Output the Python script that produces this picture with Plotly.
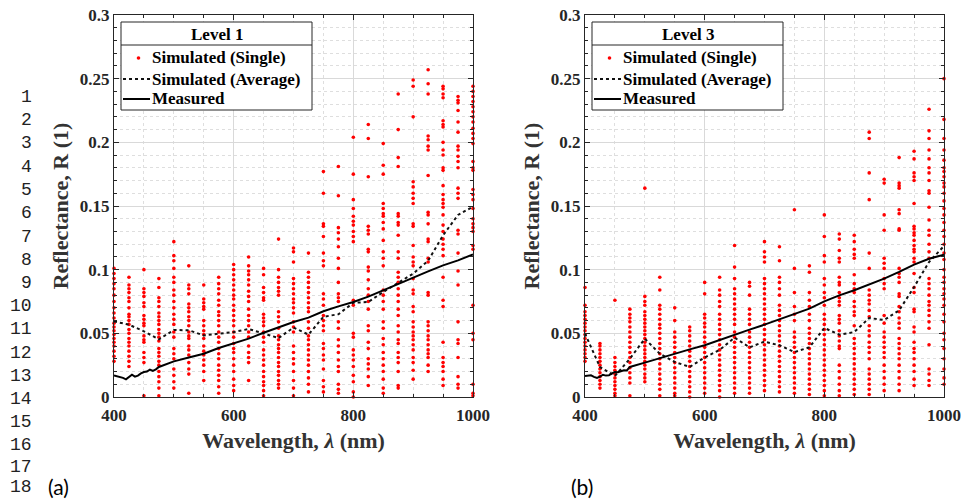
import plotly.graph_objects as go

# ---------------- data ----------------
WL_COLS = [400, 425, 450, 475, 500, 525, 550, 575, 600, 625, 650, 675, 700,
           725, 750, 775, 800, 825, 850, 875, 900, 925, 950, 975, 1000]

SINGLE_A = [
    [0.101,0.097,0.093,0.089,0.085,0.080,0.075,0.070,0.066,0.062,0.058,0.055,0.052,0.049,0.046,0.043,0.040,0.036,0.032,0.028],
    [0.094,0.088,0.085,0.082,0.078,0.075,0.070,0.065,0.063,0.060,0.057,0.053,0.050,0.046,0.043,0.040,0.036,0.032,0.028,0.024],
    [0.100,0.085,0.082,0.079,0.074,0.071,0.064,0.061,0.058,0.056,0.048,0.045,0.043,0.035,0.031,0.027,0.001],
    [0.093,0.086,0.078,0.075,0.071,0.066,0.063,0.060,0.057,0.053,0.050,0.047,0.044,0.038,0.035,0.032,0.028,0.025,0.020,0.016,0.012,0.007,0.001],
    [0.122,0.111,0.107,0.101,0.094,0.090,0.084,0.080,0.075,0.070,0.065,0.061,0.057,0.051,0.047,0.038,0.034,0.030,0.022,0.017,0.012,0.007],
    [0.103,0.088,0.085,0.081,0.073,0.070,0.067,0.063,0.060,0.056,0.051,0.048,0.046,0.040,0.037,0.033,0.027,0.022,0.018,0.003],
    [0.088,0.077,0.074,0.071,0.069,0.060,0.056,0.052,0.049,0.046,0.040,0.036,0.033,0.029,0.025,0.020,0.013],
    [0.094,0.089,0.085,0.081,0.076,0.072,0.067,0.064,0.060,0.056,0.051,0.047,0.043,0.038,0.034,0.030,0.025,0.021,0.017,0.013,0.008,0.003],
    [0.104,0.100,0.096,0.092,0.088,0.084,0.080,0.077,0.072,0.068,0.064,0.060,0.056,0.051,0.047,0.042,0.038,0.035,0.030,0.025,0.020,0.014,0.009,0.005],
    [0.110,0.103,0.099,0.096,0.092,0.088,0.083,0.079,0.075,0.069,0.064,0.060,0.056,0.051,0.047,0.040,0.035,0.031,0.027,0.013],
    [0.101,0.096,0.086,0.082,0.078,0.076,0.065,0.062,0.059,0.056,0.051,0.047,0.043,0.037,0.033,0.029,0.025,0.020,0.016,0.012,0.009,0.005,0.001],
    [0.124,0.100,0.094,0.090,0.086,0.083,0.080,0.067,0.063,0.059,0.054,0.048,0.045,0.041,0.038,0.035,0.031,0.027,0.024,0.020,0.017,0.013,0.010,0.007],
    [0.117,0.114,0.106,0.093,0.089,0.085,0.081,0.077,0.074,0.070,0.066,0.059,0.055,0.051,0.040,0.035,0.030,0.026,0.020,0.013,0.007,0.001],
    [0.113,0.098,0.094,0.090,0.086,0.082,0.078,0.074,0.070,0.067,0.059,0.054,0.048,0.045,0.041,0.037,0.033,0.029,0.025,0.020,0.015,0.010,0.004],
    [0.177,0.160,0.136,0.134,0.126,0.113,0.107,0.103,0.081,0.077,0.072,0.064,0.060,0.056,0.052,0.042,0.038,0.033,0.029,0.022,0.013,0.008,0.004],
    [0.181,0.158,0.133,0.129,0.124,0.118,0.109,0.101,0.090,0.081,0.078,0.075,0.059,0.054,0.045,0.040,0.035,0.029,0.024,0.020,0.010,0.006,0.003],
    [0.204,0.175,0.155,0.148,0.142,0.138,0.135,0.130,0.126,0.122,0.076,0.072,0.050,0.047,0.037,0.033,0.029,0.024,0.017,0.012,0.004,0.000],
    [0.214,0.203,0.173,0.134,0.131,0.128,0.116,0.114,0.102,0.099,0.092,0.085,0.080,0.075,0.069,0.056,0.052,0.043,0.038,0.030,0.026,0.022,0.016,0.009],
    [0.199,0.182,0.175,0.152,0.148,0.144,0.142,0.137,0.132,0.123,0.114,0.109,0.103,0.084,0.080,0.075,0.069,0.059,0.054,0.046,0.041,0.035,0.030,0.025,0.020,0.014,0.007,0.003],
    [0.238,0.210,0.188,0.181,0.144,0.142,0.137,0.135,0.127,0.114,0.109,0.098,0.094,0.090,0.085,0.080,0.075,0.069,0.064,0.056,0.051,0.045,0.042,0.035,0.031,0.027,0.020,0.009,0.007],
    [0.249,0.244,0.220,0.169,0.165,0.160,0.156,0.152,0.136,0.134,0.119,0.110,0.106,0.103,0.093,0.084,0.081,0.071,0.067,0.059,0.055,0.051,0.048,0.045,0.041,0.037,0.031,0.027,0.021,0.014],
    [0.257,0.246,0.238,0.205,0.202,0.197,0.194,0.174,0.145,0.143,0.136,0.124,0.122,0.109,0.106,0.082,0.080,0.059,0.056,0.052,0.048,0.045,0.041,0.037,0.034,0.031,0.025,0.020],
    [0.244,0.242,0.238,0.235,0.217,0.214,0.212,0.200,0.194,0.190,0.180,0.178,0.166,0.159,0.155,0.152,0.149,0.143,0.135,0.130,0.124,0.120,0.116,0.111,0.094,0.076,0.071,0.043,0.031,0.027,0.024,0.020,0.014,0.009],
    [0.236,0.233,0.231,0.225,0.216,0.208,0.197,0.194,0.189,0.185,0.180,0.164,0.160,0.156,0.131,0.128,0.113,0.099,0.088,0.059,0.045,0.042,0.031,0.016,0.010,0.007],
    [0.244,0.240,0.236,0.232,0.228,0.224,0.220,0.216,0.211,0.207,0.203,0.199,0.185,0.180,0.178,0.163,0.159,0.155,0.148,0.140,0.136,0.133,0.130,0.119,0.116,0.072,0.050,0.045,0.010,0.003,0.001],
]

SINGLE_B = [
    [0.086,0.072,0.067,0.064,0.061,0.058,0.055,0.052,0.049,0.046,0.043,0.040,0.037,0.034,0.031,0.028],
    [0.042,0.040,0.037,0.034,0.031,0.028,0.025,0.022,0.019,0.016,0.013,0.010,0.007],
    [0.076,0.031,0.027,0.024,0.021,0.018,0.015,0.012,0.009,0.006,0.003,0.001],
    [0.069,0.065,0.062,0.059,0.055,0.051,0.047,0.043,0.039,0.035,0.031,0.027,0.023,0.019,0.015,0.011,0.001],
    [0.164,0.079,0.075,0.072,0.067,0.064,0.061,0.058,0.055,0.052,0.049,0.046,0.043,0.040,0.037,0.034,0.031,0.028,0.025,0.022,0.018,0.015,0.012],
    [0.094,0.084,0.072,0.069,0.065,0.061,0.057,0.054,0.050,0.046,0.042,0.038,0.034,0.030,0.026,0.022,0.018,0.014,0.010,0.006,0.001],
    [0.070,0.060,0.051,0.047,0.043,0.039,0.035,0.031,0.027,0.023,0.019,0.015,0.011,0.007,0.003,0.001],
    [0.055,0.052,0.048,0.044,0.040,0.036,0.032,0.028,0.024,0.020,0.016,0.012,0.008,0.004,0.000],
    [0.090,0.081,0.065,0.062,0.058,0.055,0.051,0.047,0.043,0.039,0.035,0.031,0.027,0.023,0.019,0.015,0.011,0.007,0.003],
    [0.094,0.084,0.080,0.075,0.071,0.065,0.061,0.057,0.053,0.049,0.045,0.041,0.037,0.033,0.029,0.025,0.021,0.017,0.013,0.009,0.005,0.000],
    [0.119,0.102,0.093,0.085,0.081,0.077,0.073,0.069,0.065,0.061,0.057,0.051,0.047,0.043,0.039,0.035,0.031,0.027,0.023,0.019,0.015,0.011,0.007,0.003],
    [0.090,0.087,0.080,0.069,0.065,0.061,0.057,0.051,0.047,0.043,0.039,0.035,0.031,0.027,0.023,0.019,0.015,0.011,0.007,0.003],
    [0.122,0.114,0.110,0.106,0.093,0.089,0.085,0.081,0.077,0.073,0.069,0.065,0.061,0.057,0.053,0.049,0.045,0.041,0.037,0.033,0.029,0.025,0.021,0.017,0.013,0.009,0.005],
    [0.118,0.107,0.094,0.090,0.085,0.080,0.072,0.068,0.064,0.060,0.056,0.052,0.048,0.044,0.040,0.036,0.032,0.028,0.024,0.020,0.016,0.012,0.008,0.004],
    [0.147,0.101,0.082,0.071,0.065,0.060,0.051,0.047,0.043,0.039,0.035,0.031,0.027,0.023,0.019,0.015,0.011,0.007,0.003],
    [0.103,0.098,0.082,0.076,0.071,0.065,0.060,0.054,0.050,0.046,0.042,0.038,0.034,0.030,0.026,0.022,0.018,0.014,0.010,0.006,0.002],
    [0.143,0.126,0.111,0.106,0.093,0.088,0.082,0.078,0.072,0.065,0.061,0.057,0.053,0.049,0.045,0.041,0.037,0.033,0.029,0.025,0.021,0.017,0.013,0.009,0.005,0.001],
    [0.128,0.124,0.115,0.109,0.106,0.094,0.090,0.088,0.082,0.078,0.075,0.072,0.064,0.061,0.058,0.052,0.048,0.044,0.040,0.038,0.025,0.020,0.015,0.010,0.005,0.001],
    [0.127,0.122,0.116,0.112,0.109,0.096,0.089,0.085,0.082,0.075,0.071,0.067,0.064,0.056,0.046,0.042,0.038,0.034,0.030,0.026,0.022,0.018,0.014,0.010,0.006,0.002],
    [0.208,0.203,0.176,0.155,0.113,0.101,0.084,0.080,0.076,0.073,0.068,0.063,0.056,0.052,0.048,0.043,0.039,0.035,0.030,0.022,0.018,0.014,0.010,0.006,0.002],
    [0.171,0.168,0.143,0.131,0.109,0.105,0.101,0.093,0.089,0.085,0.064,0.058,0.051,0.047,0.043,0.039,0.035,0.031,0.025,0.020,0.015,0.010,0.005],
    [0.188,0.168,0.166,0.164,0.147,0.144,0.132,0.131,0.101,0.097,0.094,0.090,0.081,0.079,0.071,0.067,0.062,0.058,0.054,0.046,0.042,0.038,0.034,0.030,0.025,0.020,0.015,0.010,0.005],
    [0.193,0.187,0.176,0.173,0.170,0.152,0.134,0.132,0.129,0.127,0.123,0.119,0.116,0.114,0.109,0.106,0.097,0.086,0.082,0.069,0.067,0.055,0.051,0.043,0.038,0.035,0.030,0.025,0.020,0.014,0.009],
    [0.226,0.209,0.203,0.194,0.187,0.180,0.176,0.170,0.162,0.160,0.149,0.139,0.131,0.127,0.120,0.114,0.109,0.093,0.089,0.085,0.080,0.075,0.072,0.068,0.064,0.059,0.054,0.041,0.022,0.018,0.013,0.009],
    [0.250,0.218,0.203,0.194,0.186,0.180,0.177,0.173,0.168,0.165,0.160,0.154,0.148,0.143,0.137,0.131,0.126,0.120,0.113,0.108,0.100,0.094,0.090,0.085,0.081,0.077,0.072,0.065,0.059,0.050,0.045,0.038,0.030,0.022,0.015,0.010],
]

AVG_A = [0.0594,0.0568,0.0516,0.0453,0.0526,0.0524,0.0484,0.0495,0.0510,0.0534,0.0497,0.0463,0.0545,
         0.0490,0.0630,0.0650,0.0740,0.0746,0.0825,0.0898,0.0969,0.1070,0.1270,0.1430,0.1495]
AVG_B = [0.0497,0.0236,0.0165,0.0301,0.0458,0.0340,0.0275,0.0236,0.0310,0.0370,0.0466,0.0390,0.0435,
         0.0406,0.0353,0.0390,0.0542,0.0490,0.0510,0.0620,0.0605,0.0680,0.0864,0.1060,0.1186]

WL_MEAS = [400,405,410,415,420,425,430,435,440,445,450,455,460,465,470,475,
           500,525,550,575,600,625,650,675,700,725,750,775,800,825,850,875,900,925,950,975,1000]
MEAS_A = [0.0170,0.0165,0.0157,0.0150,0.0139,0.0160,0.0175,0.0160,0.0168,0.0185,0.0196,0.0200,0.0215,0.0205,0.0217,0.0236,
          0.0280,0.0310,0.0340,0.0385,0.0419,0.0458,0.0505,0.0550,0.0589,0.0623,0.0673,0.0712,0.0746,0.0788,0.0838,0.0890,
          0.0942,0.0987,0.1034,0.1073,0.1120]
MEAS_B = [0.0165,0.0170,0.0170,0.0158,0.0149,0.0160,0.0175,0.0168,0.0170,0.0185,0.0196,0.0195,0.0204,0.0210,0.0208,0.0236,
          0.0270,0.0306,0.0340,0.0374,0.0406,0.0445,0.0484,0.0529,0.0568,0.0610,0.0647,0.0694,0.0751,0.0798,0.0838,0.0882,
          0.0930,0.0982,0.1040,0.1086,0.1118]

X_TICKS = [400, 600, 800, 1000]
Y_TICKS = [0, 0.05, 0.1, 0.15, 0.2, 0.25, 0.3]
Y_TICKTEXT = ["0", "0.05", "0.1", "0.15", "0.2", "0.25", "0.3"]
LEVELS = ["Level 1", "Level 3"]
NAMES = ["Simulated (Single)", "Simulated (Average)", "Measured"]
PANEL_LABELS = ["(a)", "(b)"]
LINE_NUMBERS = list(range(1, 19))

# ---------------- figure ----------------
W, H = 966, 500
SERIF = "Liberation Serif"
INK = "#262626"
RED = "#ff0000"

fig = go.Figure()

def flatten(cols):
    xs, ys = [], []
    for wl, vals in zip(WL_COLS, cols):
        xs += [wl] * len(vals)
        ys += vals
    return xs, ys

panels = [
    dict(single=SINGLE_A, avg=AVG_A, meas=MEAS_A, xa="x", ya="y"),
    dict(single=SINGLE_B, avg=AVG_B, meas=MEAS_B, xa="x2", ya="y2"),
]

for p in panels:
    xs, ys = flatten(p["single"])
    fig.add_trace(go.Scatter(x=xs, y=ys, mode="markers", name=NAMES[0], showlegend=False,
                             marker=dict(color=RED, size=3.6, line=dict(width=0)),
                             cliponaxis=False, xaxis=p["xa"], yaxis=p["ya"]))
    fig.add_trace(go.Scatter(x=WL_COLS, y=p["avg"], mode="lines", name=NAMES[1], showlegend=False,
                             line=dict(color="#111111", width=2, dash="dot"),
                             xaxis=p["xa"], yaxis=p["ya"]))
    fig.add_trace(go.Scatter(x=WL_MEAS, y=p["meas"], mode="lines", name=NAMES[2], showlegend=False,
                             line=dict(color="#000000", width=2),
                             xaxis=p["xa"], yaxis=p["ya"]))

def px_x(v):
    return v / W

def px_y(v):
    return 1 - v / H

tickfont = dict(family=SERIF, size=17, color=INK, weight="bold")
titlefont = dict(family=SERIF, size=22, color="#333333", weight="bold")

def xaxis(domain, anchor):
    return dict(domain=domain, anchor=anchor, range=[400, 1000], automargin=False,
                tickmode="array", tickvals=X_TICKS,
                showline=True, linecolor=INK, linewidth=1, mirror="ticks",
                ticks="inside", ticklen=5, tickcolor=INK, ticklabelstandoff=3,
                showgrid=True, gridcolor="#d9d9d9", gridwidth=1, zeroline=False,
                tickfont=tickfont,
                title=dict(text="Wavelength, <i>λ</i> (nm)", font=titlefont, standoff=8),
                minor=dict(dtick=50, tick0=400, ticks="inside", ticklen=3, tickcolor=INK,
                           showgrid=True, gridcolor="#dedede", griddash="dot", gridwidth=1))

def yaxis(domain, anchor):
    return dict(domain=domain, anchor=anchor, range=[0, 0.3], automargin=False,
                tickmode="array", tickvals=Y_TICKS, ticktext=Y_TICKTEXT,
                showline=True, linecolor=INK, linewidth=1, mirror="ticks",
                ticks="inside", ticklen=5, tickcolor=INK,
                showgrid=True, gridcolor="#d9d9d9", gridwidth=1, zeroline=False,
                tickfont=tickfont,
                title=dict(text="Reflectance, R (1)", font=titlefont, standoff=5),
                minor=dict(dtick=0.01, tick0=0, ticks="inside", ticklen=3, tickcolor=INK,
                           showgrid=True, gridcolor="#dedede", griddash="dot", gridwidth=1))

ydom = [px_y(397), px_y(15)]
fig.update_layout(
    width=W, height=H, margin=dict(l=0, r=0, t=0, b=0, autoexpand=False),
    paper_bgcolor="white", plot_bgcolor="white", showlegend=False,
    xaxis=xaxis([px_x(114), px_x(473)], "y"),
    yaxis=yaxis(ydom, "x"),
    xaxis2=xaxis([px_x(585), px_x(944)], "y2"),
    yaxis2=yaxis(ydom, "x2"),
)

# ---------- legend boxes (drawn in figure pixels) ----------
legfont = dict(family=SERIF, size=17, color="#000000", weight="bold")

def draw_legend(bx0, bx1, level):
    by0, by1, sep = 22, 110, 45
    fig.add_shape(type="rect", xref="paper", yref="paper",
                  x0=px_x(bx0), x1=px_x(bx1), y0=px_y(by1), y1=px_y(by0),
                  line=dict(color=INK, width=1), fillcolor="white", layer="above")
    fig.add_shape(type="line", xref="paper", yref="paper",
                  x0=px_x(bx0), x1=px_x(bx1), y0=px_y(sep), y1=px_y(sep),
                  line=dict(color=INK, width=1), layer="above")
    fig.add_annotation(text=level, xref="paper", yref="paper",
                       x=px_x((bx0 + bx1) / 2), y=px_y(34), xanchor="center", yanchor="middle",
                       showarrow=False, font=legfont)
    rows = [58, 79, 99]
    sx0, sx1 = bx0 + 2, bx0 + 29
    cx, cy = (sx0 + sx1) / 2 + 2, rows[0]
    fig.add_shape(type="circle", xref="paper", yref="paper",
                  x0=px_x(cx - 1.8), x1=px_x(cx + 1.8), y0=px_y(cy + 1.8), y1=px_y(cy - 1.8),
                  line=dict(width=0), fillcolor=RED, layer="above")
    fig.add_shape(type="line", xref="paper", yref="paper",
                  x0=px_x(sx0), x1=px_x(sx1), y0=px_y(rows[1]), y1=px_y(rows[1]),
                  line=dict(color="#111111", width=2, dash="dot"), layer="above")
    fig.add_shape(type="line", xref="paper", yref="paper",
                  x0=px_x(sx0), x1=px_x(sx1), y0=px_y(rows[2]), y1=px_y(rows[2]),
                  line=dict(color="#000000", width=2), layer="above")
    for name, ry in zip(NAMES, rows):
        fig.add_annotation(text=name, xref="paper", yref="paper",
                           x=px_x(sx1), y=px_y(ry), xanchor="left", yanchor="middle",
                           showarrow=False, font=legfont)

draw_legend(121, 312, LEVELS[0])
draw_legend(592, 783, LEVELS[1])

# line numbers (manuscript margin)
line_y = [97, 120, 143, 167, 190, 213, 237, 260, 283, 306, 329, 353, 376, 399, 422, 445, 467, 487]
for n, yy in zip(LINE_NUMBERS, line_y):
    fig.add_annotation(text=str(n), xref="paper", yref="paper", x=px_x(34), y=px_y(yy),
                       xanchor="right", yanchor="middle", showarrow=False,
                       font=dict(family="Liberation Mono", size=18, color="#222222"))

for lab, xx in zip(PANEL_LABELS, [46, 569]):
    fig.add_annotation(text=lab, xref="paper", yref="paper", x=px_x(xx), y=px_y(486),
                       xanchor="left", yanchor="middle", showarrow=False,
                       font=dict(family="Lato", size=21, color="#000000"))

fig.write_html("out.html", config={"displayModeBar": False},
               post_script="document.body.style.margin='0px';document.body.style.overflow='hidden';")
